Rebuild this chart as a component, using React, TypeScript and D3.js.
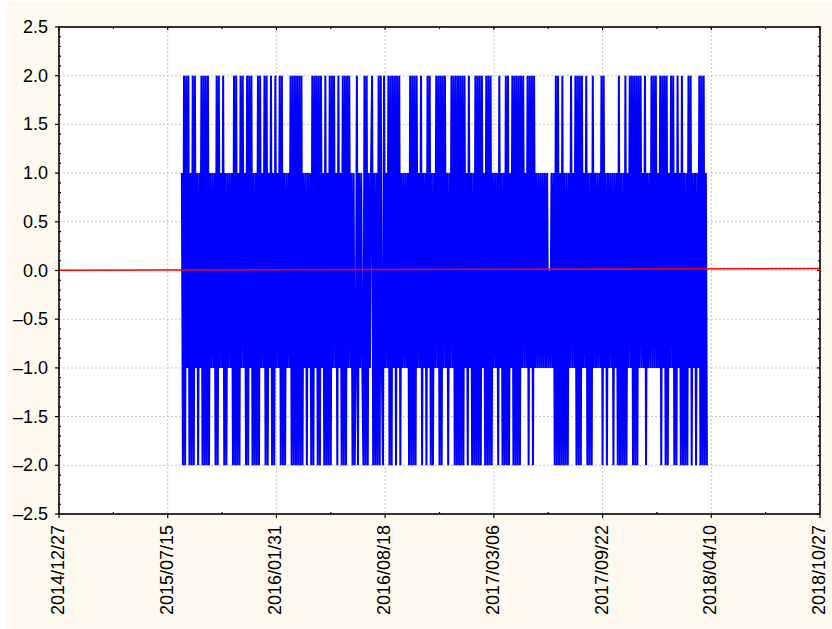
import React, { useEffect, useRef } from 'react';
import * as d3 from 'd3';

// date axis labels, one every 200 days
const xTickLabels = ['2014/12/27', '2015/07/15', '2016/01/31', '2016/08/18', '2017/03/06', '2017/09/22', '2018/04/10', '2018/10/27'];
const yTicks = [-2.5, -2.0, -1.5, -1.0, -0.5, 0.0, 0.5, 1.0, 1.5, 2.0, 2.5];

// blue series: one reading every 2 days from 2015/08/10, each digit = value + 2
const seriesStart = '2015/08/10';
const seriesStepDays = 2;
const seriesCodes = [
  '3040414030', '4041303140', '4040403131', '3040413140',
  '3031313040', '4030414130', '4041403030', '4041314040',
  '3140304131', '4040303131', '4040404040', '4031303130',
  '4041404041', '3040304041', '4130413040', '4041413030',
  '1403131040', '4031340303', '0404104131', '4040414041',
  '4031313130', '4040404131', '4031304140', '3031414040',
  '4141303141', '4040404040', '4130413030', '4040404130',
  '4040403131', '3041303040', '4031404040', '4041413140',
  '4140413131', '3131313121', '3130404030', '4030303141',
  '3140404041', '3140303041', '3131314041', '3031313031',
  '3040303040', '3141404040', '4141314031', '3141414131',
  '4041404031', '4140304130', '4030304140', '3130314040',
  '4030',
].join('');

// red fitted line across the whole date range
const trendDates = ['2014/12/27', '2018/10/27'];
const trendValues = [0.003, 0.02];

const W = 832;
const H = 629;
const margin = { left: 59, top: 27, right: 12, bottom: 115 };
const FONT = '"Liberation Sans", Arial, sans-serif';

const App: React.FC = () => {
  const svgRef = useRef<SVGSVGElement>(null);

  useEffect(() => {
    if (!svgRef.current) return;
    const parse = d3.utcParse('%Y/%m/%d');
    const svg = d3.select(svgRef.current);
    svg.selectAll('*').remove();

    const x0 = margin.left;
    const x1 = W - margin.right;
    const y0 = H - margin.bottom;
    const y1 = margin.top;

    const xTickDates = xTickLabels.map(s => parse(s) as Date);
    const x = d3.scaleUtc()
      .domain([xTickDates[0], xTickDates[xTickDates.length - 1]])
      .range([x0, x1]);
    const y = d3.scaleLinear().domain([-2.5, 2.5]).range([y0, y1]);

    // background + plot area
    svg.append('rect').attr('x', 7).attr('y', 2).attr('width', W - 7).attr('height', H - 2).attr('fill', '#fdf9ee');
    svg.append('rect').attr('x', x0).attr('y', y1).attr('width', x1 - x0).attr('height', y0 - y1).attr('fill', '#ffffff');

    // dotted grid
    const grid = svg.append('g').attr('stroke', '#c4c4c4').attr('stroke-width', 1).attr('stroke-dasharray', '2,2');
    grid.selectAll('line.h')
      .data(yTicks.slice(1, -1))
      .join('line')
      .attr('x1', x0).attr('x2', x1)
      .attr('y1', d => y(d)).attr('y2', d => y(d));
    grid.selectAll('line.v')
      .data(xTickDates.slice(1, -1))
      .join('line')
      .attr('class', 'v')
      .attr('x1', d => x(d)).attr('x2', d => x(d))
      .attr('y1', y1).attr('y2', y0);

    // series
    const start = parse(seriesStart) as Date;
    const series: [Date, number][] = seriesCodes.split('').map((c, i) => [
      d3.utcDay.offset(start, i * seriesStepDays),
      +c - 2,
    ]);
    const line = d3.line<[Date, number]>().x(d => x(d[0])).y(d => y(d[1]));
    svg.append('path')
      .datum(series)
      .attr('d', line)
      .attr('fill', 'none')
      .attr('stroke', '#0000ff')
      .attr('stroke-width', 2)
      .attr('stroke-linejoin', 'bevel');

    const trend: [Date, number][] = trendDates.map((s, i) => [parse(s) as Date, trendValues[i]]);
    svg.append('path')
      .datum(trend)
      .attr('d', line)
      .attr('fill', 'none')
      .attr('stroke', '#ff0000')
      .attr('stroke-width', 1.5);

    // frame
    svg.append('rect')
      .attr('x', x0).attr('y', y1).attr('width', x1 - x0).attr('height', y0 - y1)
      .attr('fill', 'none').attr('stroke', '#000').attr('stroke-width', 1.6);

    // ticks
    const ticks = svg.append('g').attr('stroke', '#000').attr('stroke-width', 1.2);
    const minorY = y.ticks(50).filter(v => !yTicks.some(t => Math.abs(t - v) < 1e-6));
    ticks.selectAll('line.ly').data(yTicks).join('line').attr('class', 'ly')
      .attr('x1', x0 - 4).attr('x2', x0).attr('y1', d => y(d)).attr('y2', d => y(d));
    ticks.selectAll('line.lym').data(minorY).join('line').attr('class', 'lym')
      .attr('x1', x0).attr('x2', x0 + 2).attr('y1', d => y(d)).attr('y2', d => y(d));
    ticks.selectAll('line.ry').data(yTicks).join('line').attr('class', 'ry')
      .attr('x1', x1 - 3).attr('x2', x1).attr('y1', d => y(d)).attr('y2', d => y(d));
    ticks.selectAll('line.rym').data(minorY).join('line').attr('class', 'rym')
      .attr('x1', x1 - 2).attr('x2', x1).attr('y1', d => y(d)).attr('y2', d => y(d));

    const midDates = xTickDates.slice(1).map((d, i) => new Date((d.getTime() + xTickDates[i].getTime()) / 2));
    ticks.selectAll('line.bx').data(xTickDates).join('line').attr('class', 'bx')
      .attr('x1', d => x(d)).attr('x2', d => x(d)).attr('y1', y0).attr('y2', y0 + 4);
    ticks.selectAll('line.bxm').data(midDates).join('line').attr('class', 'bxm')
      .attr('x1', d => x(d)).attr('x2', d => x(d)).attr('y1', y0).attr('y2', y0 - 2);
    ticks.selectAll('line.tx').data(xTickDates).join('line').attr('class', 'tx')
      .attr('x1', d => x(d)).attr('x2', d => x(d)).attr('y1', y1).attr('y2', y1 + 3);
    ticks.selectAll('line.txm').data(midDates).join('line').attr('class', 'txm')
      .attr('x1', d => x(d)).attr('x2', d => x(d)).attr('y1', y1).attr('y2', y1 + 2);

    // labels
    const fmt = (v: number) => (v < 0 ? '\u2013' : '') + Math.abs(v).toFixed(1);
    svg.append('g')
      .selectAll('text')
      .data(yTicks)
      .join('text')
      .attr('x', x0 - 11)
      .attr('y', d => y(d))
      .attr('text-anchor', 'end')
      .attr('dominant-baseline', 'central')
      .attr('font-family', FONT)
      .attr('font-size', 18)
      .attr('fill', '#000')
      .text(d => fmt(d));

    svg.append('g')
      .selectAll('text')
      .data(xTickDates)
      .join('text')
      .attr('transform', d => `translate(${x(d) - 1},${y0 + 11}) rotate(-90)`)
      .attr('text-anchor', 'end')
      .attr('dominant-baseline', 'central')
      .attr('font-family', FONT)
      .attr('font-size', 18)
      .attr('fill', '#000')
      .text((d, i) => xTickLabels[i]);
  }, []);

  return (
    <svg
      ref={svgRef}
      width={W}
      height={H}
      style={{ position: 'absolute', left: 0, top: 0, display: 'block', background: '#ffffff' }}
    />
  );
};

export default App;
